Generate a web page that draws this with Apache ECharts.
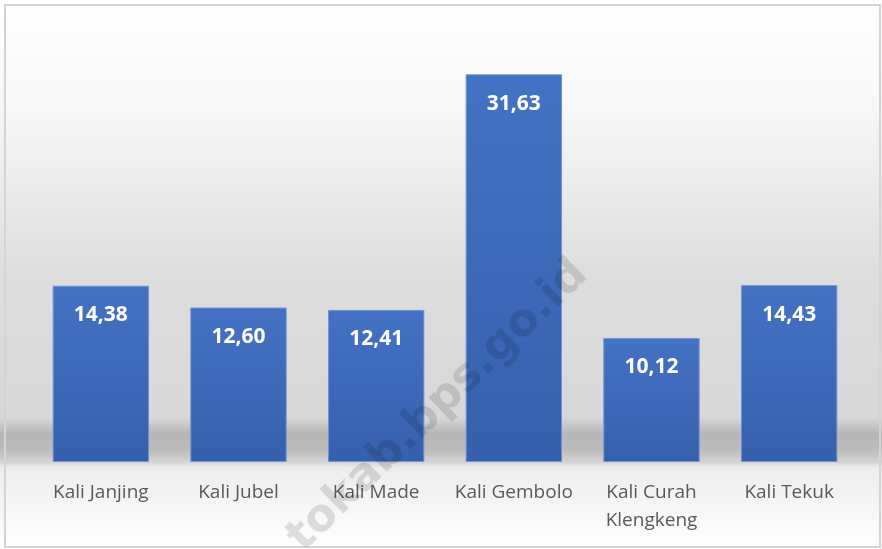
<!DOCTYPE html>
<html>
<head>
    <meta charset="UTF-8">
    <title>Kali</title>
    <script type="text/javascript" src="https://cdn.jsdelivr.net/npm/echarts@6/dist/echarts.min.js"></script>
</head>
<body style="margin: 0">
<div id="container" style="width: 882px; height: 549px"></div>
<script type="text/javascript">
    const categories = ['Kali Janjing', 'Kali Jubel', 'Kali Made', 'Kali Gembolo', 'Kali Curah\nKlengkeng', 'Kali Tekuk'];
    const values = [14.38, 12.60, 12.41, 31.63, 10.12, 14.43];

    const myChart = echarts.init(document.getElementById('container'));

    const option = {
        animation: false,
        backgroundColor: new echarts.graphic.LinearGradient(0, 0, 0, 1, [
            {offset: 0, color: '#ffffff'},
            {offset: 0.2, color: '#f7f7f7'},
            {offset: 0.5, color: '#dddddd'},
            {offset: 0.76, color: '#d8d8d8'},
            {offset: 0.79, color: '#b6b6b6'},
            {offset: 0.82, color: '#bcbcbc'},
            {offset: 0.842, color: '#d4d4d4'},
            {offset: 0.852, color: '#ededed'},
            {offset: 1, color: '#ffffff'}
        ]),
        grid: {left: 32, right: 24, top: 33, bottom: 87},
        xAxis: {
            type: 'category',
            data: categories,
            axisLine: {show: false},
            axisTick: {show: false},
            axisLabel: {
                interval: 0,
                color: '#595959',
                fontSize: 19,
                fontFamily: 'Open Sans',
                margin: 17,
                lineHeight: 28,
                verticalAlign: 'top'
            }
        },
        yAxis: {
            type: 'value',
            min: 0,
            max: 35,
            show: false,
            splitLine: {show: false}
        },
        series: [{
            type: 'bar',
            data: values,
            barWidth: '70%',
            itemStyle: {
                color: new echarts.graphic.LinearGradient(0, 0, 0, 1, [
                    {offset: 0, color: '#4472c4'},
                    {offset: 1, color: '#3660ad'}
                ]),
                borderColor: '#6f93d3',
                borderWidth: 1
            },
            label: {
                show: true,
                position: 'insideTop',
                distance: 19,
                color: '#ffffff',
                fontSize: 21,
                fontWeight: 'bold',
                fontFamily: 'Open Sans',
                formatter: p => p.value.toFixed(2).replace('.', ',')
            }
        }],
        graphic: [{
            type: 'rect',
            z: 100,
            shape: {x: 5, y: 5, width: 875, height: 542},
            style: {fill: 'none', stroke: '#d4d4d4', lineWidth: 2}
        }, {
            type: 'text',
            z: 100,
            x: 438,
            y: 406,
            rotation: 44 * Math.PI / 180,
            style: {
                text: 'tokab.bps.go.id',
                font: 'bold 45px "DejaVu Sans"',
                fill: 'rgba(0, 0, 0, 0.12)',
                align: 'center',
                verticalAlign: 'middle'
            }
        }]
    };

    myChart.setOption(option, true);
</script>
</body>
</html>
